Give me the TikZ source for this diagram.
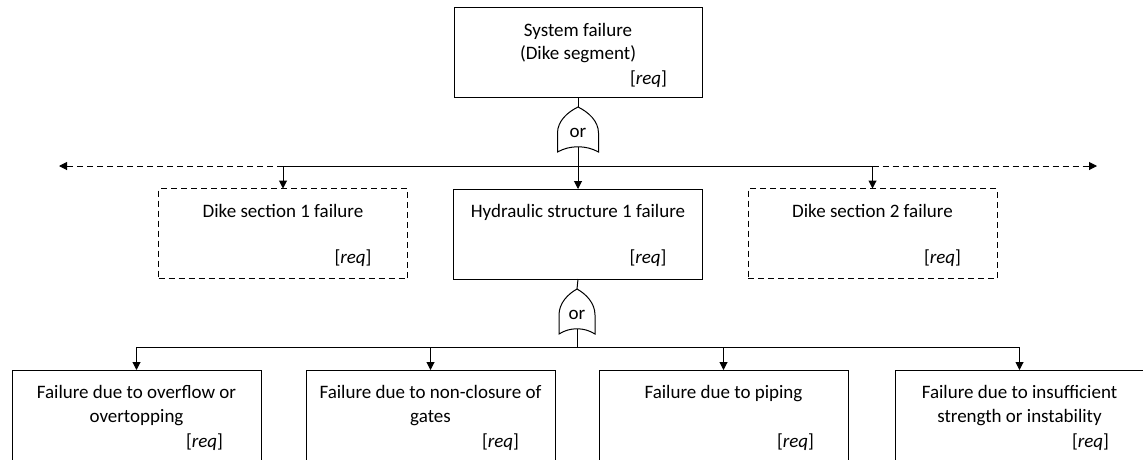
\documentclass[tikz,border=0pt]{standalone}
\usepackage{fontspec}
\setmainfont{Carlito}
\usetikzlibrary{arrows.meta}
\begin{document}
\begin{tikzpicture}[x=1pt,y=-1pt,
  every node/.style={font=\fontsize{19}{23}\selectfont, inner sep=0pt, outer sep=0pt},
  box/.style={draw, line width=1pt, minimum width=249pt, minimum height=90pt},
  dbox/.style={box, dash pattern=on 6pt off 4pt},
  line/.style={line width=1pt},
  arr/.style={line width=1pt, -{Triangle[length=8pt,width=8pt]}},
  darr/.style={arr, dash pattern=on 6pt off 4pt},
  txt/.style={anchor=base},
  req/.style={anchor=base west},
  pics/orgate/.style={code={
    \draw[line, fill=white] (0,0) .. controls (-0.5*#1,5) and (#1*-1,14) .. (#1*-1,26)
      -- (#1*-1,45) .. controls (-0.4*#1,38) and (0.4*#1,38) .. (#1,45)
      -- (#1,26) .. controls (#1,14) and (0.5*#1,5) .. (0,0) -- cycle;
    \coordinate (-top) at (0,0);
    \coordinate (-bot) at (0,40);
    \node[txt] (-or) at (0,30) {or};
  }}]
\useasboundingbox (0,0) rectangle (1143,459);
\clip (0,0) rectangle (1143,459);

% top event
\node[box, minimum width=248pt] (sys) at (578,52) {};
\node[txt] (sysA) at (578,36) {System failure};
\node[txt] (sysB) at (578,59) {(Dike segment)};
\node[req] (sysR) at ([xshift=176pt]sys.west |- 0,84) {[\textit{req}]};

% first level
\node[dbox] (ds1) at (283,233.5) {};
\node[txt] (ds1A) at (283,217) {Dike section 1 failure};
\node[req] (ds1R) at ([xshift=176pt]ds1.west |- 0,263) {[\textit{req}]};

\node[box] (mid) at (578,234) {};
\node[txt] (midA) at (578,217) {Hydraulic structure 1 failure};
\node[req] (midR) at ([xshift=176pt]mid.west |- 0,263) {[\textit{req}]};

\node[dbox] (ds2) at (872.5,233.5) {};
\node[txt] (ds2A) at (872.5,217) {Dike section 2 failure};
\node[req] (ds2R) at ([xshift=176pt]ds2.west |- 0,263) {[\textit{req}]};

% second level
\node[box, minimum height=120pt] (f1) at (136.5,430) {};
\node[txt] (f1A) at (136.5,398) {Failure due to overflow or};
\node[txt] (f1B) at (136.5,422) {overtopping};
\node[req] (f1R) at ([xshift=174pt]f1.west |- 0,447) {[\textit{req}]};

\node[box, minimum height=120pt] (f2) at (430.5,430) {};
\node[txt] (f2A) at (430.5,398) {Failure due to non-closure of};
\node[txt] (f2B) at (430.5,422) {gates};
\node[req] (f2R) at ([xshift=176pt]f2.west |- 0,447) {[\textit{req}]};

\node[box, minimum height=120pt] (f3) at (723.5,430) {};
\node[txt] (f3A) at (723.5,398) {Failure due to piping};
\node[req] (f3R) at ([xshift=178pt]f3.west |- 0,447) {[\textit{req}]};

\node[box, minimum height=120pt] (f4) at (1019.5,430) {};
\node[txt] (f4A) at (1019.5,398) {Failure due to insufficient};
\node[txt] (f4B) at (1019.5,422) {strength or instability};
\node[req] (f4R) at ([xshift=177pt]f4.west |- 0,447) {[\textit{req}]};

% gates
\draw[line] (sys.south) -- (578,107);
\pic (g1) at (578,107) {orgate=20.5};
\draw[line] (mid.south) -- (577,289);
\pic (g2) at (577,289) {orgate=18};

% connectors, first level
\coordinate (h) at (578,166);
\coordinate (lend) at (59,166);
\coordinate (rend) at (1097,166);
\draw[line] (ds1.north |- h) -- (ds2.north |- h);
\draw[darr] (ds1.north |- h) -- (lend);
\draw[darr] (ds2.north |- h) -- (rend);
\draw[arr] (g1-bot) -- (mid.north);
\draw[arr] (ds1.north |- h) -- (ds1.north);
\draw[arr] (ds2.north |- h) -- (ds2.north);

% connectors, second level
\coordinate (k) at (577,347);
\draw[line] (g2-bot) -- (k);
\draw[line] (f1.north |- k) -- (f4.north |- k);
\foreach \b in {f1,f2,f3,f4}
  \draw[arr] (\b.north |- k) -- (\b.north);
\end{tikzpicture}
\end{document}
